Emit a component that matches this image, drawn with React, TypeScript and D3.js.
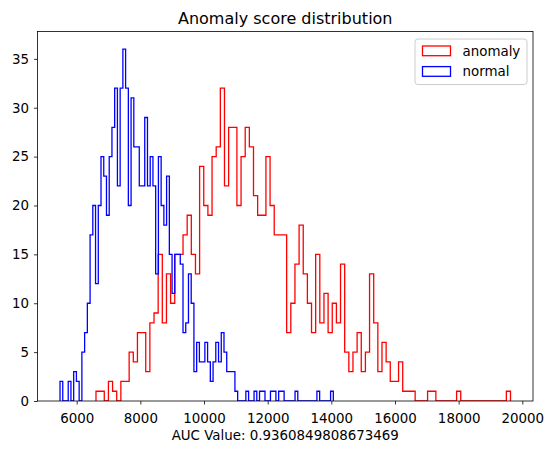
import React, { useEffect, useRef } from "react";
import * as d3 from "d3";

// matplotlib hist(..., bins=100, histtype="step"), one range per series
const anomalyRange = [6606, 19628];
const anomalyCounts = [
  1, 1, 0, 2, 1, 0, 2, 2, 5, 4,
  7, 7, 3, 8, 9, 15, 8, 13, 10, 15,
  15, 17, 19, 15, 13, 24, 20, 19, 25, 26,
  32, 22, 28, 28, 20, 25, 28, 26, 21, 19,
  19, 25, 20, 17, 17, 17, 7, 10, 14, 18,
  13, 10, 7, 15, 8, 11, 7, 10, 8, 14,
  5, 3, 5, 7, 3, 5, 13, 8, 3, 6,
  4, 2, 2, 4, 1, 1, 1, 0, 0, 0,
  1, 1, 0, 0, 0, 0, 0, 1, 0, 0,
  0, 0, 0, 0, 0, 0, 0, 0, 0, 1
];

const normalRange = [5476, 14062];
const normalCounts = [
  2, 0, 0, 2, 0, 3, 2, 0, 5, 7,
  10, 17, 20, 12, 20, 25, 23, 19, 25, 28,
  32, 22, 32, 36, 32, 20, 31, 26, 26, 22,
  22, 29, 22, 25, 22, 13, 25, 20, 18, 23,
  15, 11, 15, 15, 14, 7, 8, 13, 10, 3,
  6, 4, 4, 6, 4, 2, 4, 6, 4, 7,
  5, 3, 3, 3, 1, 0, 0, 0, 1, 0,
  0, 1, 0, 1, 1, 0, 0, 1, 1, 0,
  1, 1, 0, 0, 0, 0, 1, 0, 0, 0,
  0, 0, 0, 0, 1, 0, 0, 0, 0, 1
];

const seriesNames = ["anomaly", "normal"];
const seriesColors = ["#ff0000", "#0000ff"];
const xTicks = [6000, 8000, 10000, 12000, 14000, 16000, 18000, 20000];
const yTicks = [0, 5, 10, 15, 20, 25, 30, 35];
const titleText = "Anomaly score distribution";
const aucValue = "0.9360849808673469";

const FONT = "DejaVu Sans, sans-serif";

const App = () => {
  const svgRef = useRef<SVGSVGElement>(null);

  useEffect(() => {
    const W = 554;
    const H = 451;
    // axes box (pixels)
    const margin = { top: 31.5, right: 21, bottom: 50, left: 37.5 };
    const left = margin.left;
    const right = W - margin.right;
    const top = margin.top;
    const bottom = H - margin.bottom;

    const svg = d3.select(svgRef.current).attr("width", W).attr("height", H);
    svg.selectAll("*").remove();

    // bin edges from each series range
    const edges = (r: number[], n: number) =>
      d3.range(n + 1).map(i => r[0] + ((r[1] - r[0]) * i) / n);

    const series = [
      { counts: anomalyCounts, edges: edges(anomalyRange, anomalyCounts.length) },
      { counts: normalCounts, edges: edges(normalRange, normalCounts.length) }
    ];

    // 5% margins like matplotlib autoscale
    const lo = Math.min(anomalyRange[0], normalRange[0]);
    const hi = Math.max(anomalyRange[1], normalRange[1]);
    const pad = (hi - lo) * 0.05;
    const x = d3.scaleLinear().domain([lo - pad, hi + pad]).range([left, right]);

    const yMax = d3.max(series, s => d3.max(s.counts)) as number;
    const y = d3.scaleLinear().domain([0, yMax * 1.05]).range([bottom, top]);

    svg.append("rect").attr("width", W).attr("height", H).attr("fill", "#fff");

    const clip = svg
      .append("clipPath")
      .attr("id", "ax-clip")
      .append("rect")
      .attr("x", left)
      .attr("y", top)
      .attr("width", right - left)
      .attr("height", bottom - top);

    const line = d3
      .line<number[]>()
      .x(d => x(d[0]))
      .y(d => y(d[1]));

    const plot = svg.append("g").attr("clip-path", "url(#ax-clip)");
    series.forEach((s, k) => {
      const pts: number[][] = [[s.edges[0], 0]];
      s.counts.forEach((c, i) => {
        pts.push([s.edges[i], c], [s.edges[i + 1], c]);
      });
      pts.push([s.edges[s.edges.length - 1], 0]);
      plot
        .append("path")
        .attr("d", line(pts))
        .attr("fill", "none")
        .attr("stroke", seriesColors[k])
        .attr("stroke-width", 1.3)
        .attr("stroke-linejoin", "miter");
    });

    // axes
    const xAxis = svg
      .append("g")
      .attr("transform", `translate(0,${bottom})`)
      .call(
        d3
          .axisBottom(x)
          .tickValues(xTicks)
          .tickSize(3.5)
          .tickPadding(8.5)
          .tickFormat(d => String(d))
      );
    const yAxis = svg
      .append("g")
      .attr("transform", `translate(${left},0)`)
      .call(
        d3
          .axisLeft(y)
          .tickValues(yTicks)
          .tickSize(3.5)
          .tickPadding(5)
          .tickFormat(d => String(d))
      );
    [xAxis, yAxis].forEach(g => {
      g.select(".domain").remove();
      g.selectAll(".tick line").attr("stroke", "#000").attr("stroke-width", 0.8);
      g.selectAll(".tick text")
        .attr("fill", "#000")
        .style("font-family", FONT)
        .style("font-size", "13.4px");
    });

    // spines
    svg
      .append("rect")
      .attr("x", left)
      .attr("y", top)
      .attr("width", right - left)
      .attr("height", bottom - top)
      .attr("fill", "none")
      .attr("stroke", "#000")
      .attr("stroke-width", 0.8);

    // title + xlabel
    svg
      .append("text")
      .attr("x", (left + right) / 2)
      .attr("y", top - 8)
      .attr("text-anchor", "middle")
      .style("font-family", FONT)
      .style("font-size", "16px")
      .text(titleText);

    svg
      .append("text")
      .attr("x", (left + right) / 2)
      .attr("y", 440)
      .attr("text-anchor", "middle")
      .style("font-family", FONT)
      .style("font-size", "13.4px")
      .text(`AUC Value: ${aucValue}`);

    // legend
    const lg = svg.append("g").attr("transform", "translate(415,39)");
    lg.append("rect")
      .attr("width", 112)
      .attr("height", 45.5)
      .attr("rx", 2.8)
      .attr("fill", "#fff")
      .attr("fill-opacity", 0.8)
      .attr("stroke", "#cccccc")
      .attr("stroke-width", 1);
    seriesNames.forEach((name, i) => {
      const row = lg.append("g").attr("transform", `translate(0,${7 + i * 20.6})`);
      row
        .append("rect")
        .attr("x", 7.5)
        .attr("y", 0)
        .attr("width", 28)
        .attr("height", 9.7)
        .attr("fill", "none")
        .attr("stroke", seriesColors[i])
        .attr("stroke-width", 1.3);
      row
        .append("text")
        .attr("x", 47.5)
        .attr("y", 9.6)
        .style("font-family", FONT)
        .style("font-size", "13.4px")
        .text(name);
    });
  }, []);

  return (
    <svg
      ref={svgRef}
      style={{ position: "absolute", left: 0, top: 0, display: "block" }}
    />
  );
};

export default App;
